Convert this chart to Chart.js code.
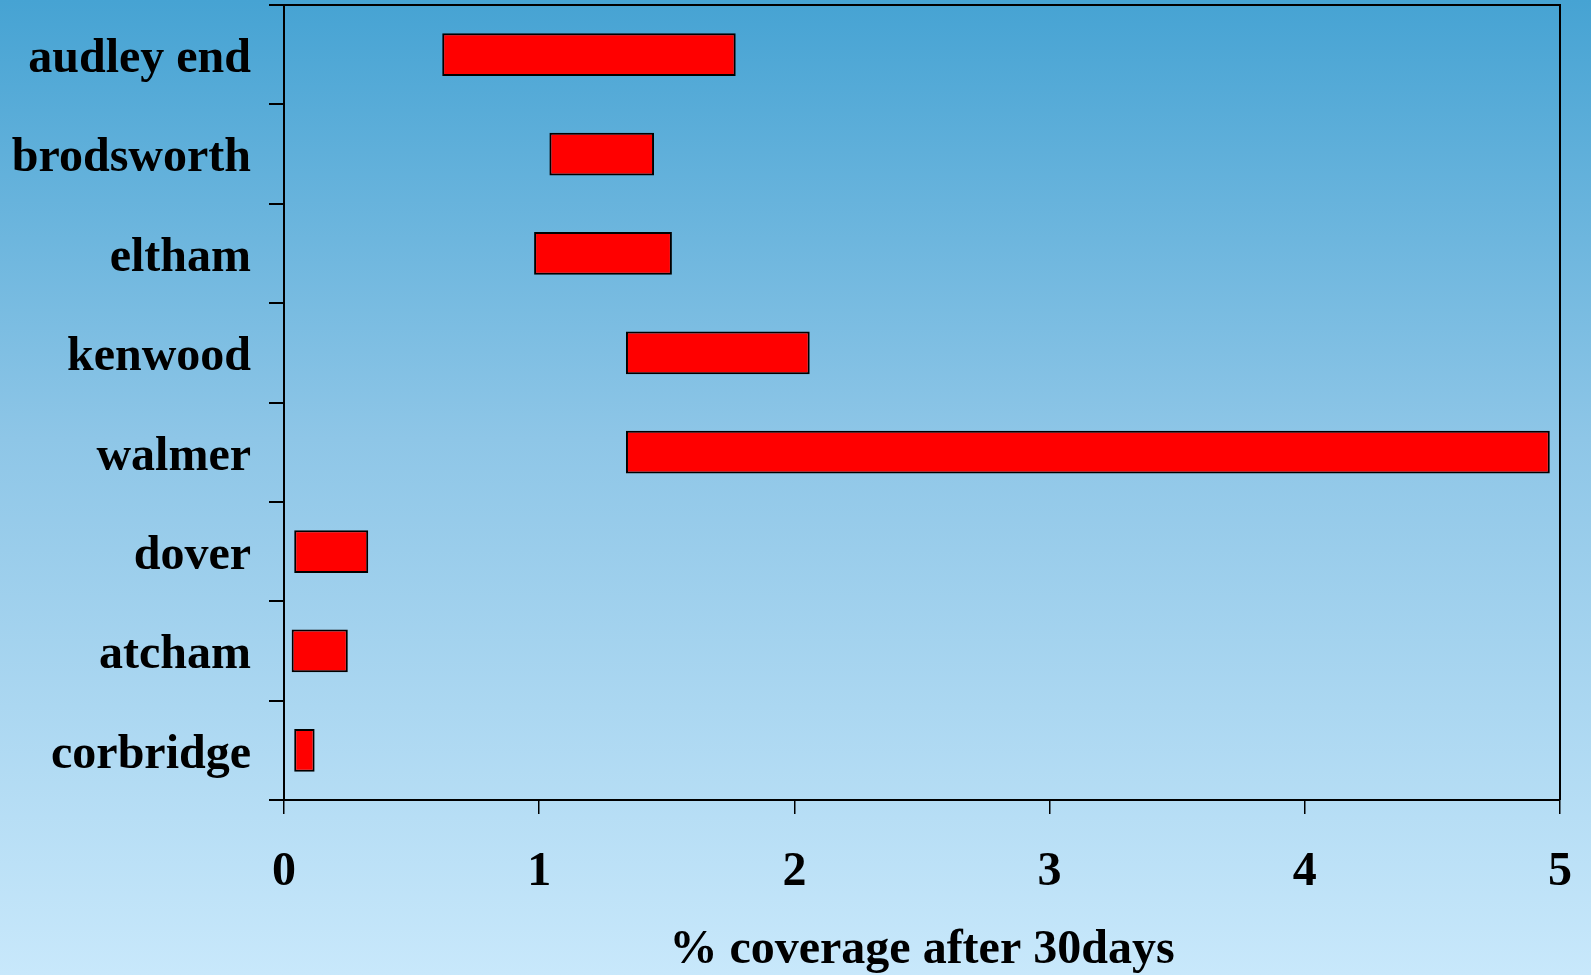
<!DOCTYPE html>
<html>
<head>
<meta charset="utf-8">
<script src="https://cdn.jsdelivr.net/npm/chart.js@4.4.0/dist/chart.umd.min.js"></script>
<style>
  html, body { margin: 0; padding: 0; }
  body {
    width: 1591px; height: 975px; overflow: hidden;
    background: linear-gradient(to bottom, #46a3d3 0%, #8ec6e7 45%, #c8e8fb 100%);
  }
  canvas { display: block; }
</style>
</head>
<body>
<canvas id="chart" width="1591" height="975"></canvas>
<script>
const sites = ['audley end', 'brodsworth', 'eltham', 'kenwood', 'walmer', 'dover', 'atcham', 'corbridge'];
// coverage range (low, high) per site
const lowValues  = [0.62, 1.04, 0.98, 1.34, 1.34, 0.04, 0.03, 0.04];
const highValues = [1.77, 1.45, 1.52, 2.06, 4.96, 0.33, 0.25, 0.12];
const xTicks = [0, 1, 2, 3, 4, 5];
const xTitle = '% coverage after 30days';

const family = '"Liberation Serif", "Times New Roman", serif';
const font = { family: family, size: 48, weight: 'bold' };

// haut et droite du cadre
const frame = {
    id: 'frame',
    afterDraw(chart) {
        const { ctx, chartArea: a } = chart;
        ctx.save();
        ctx.strokeStyle = '#000';
        ctx.lineWidth = 2;
        ctx.beginPath();
        ctx.moveTo(a.left, a.top);
        ctx.lineTo(a.right, a.top);
        ctx.lineTo(a.right, a.bottom);
        ctx.stroke();
        ctx.restore();
    }
};

new Chart(document.getElementById('chart'), {
    type: 'bar',
    data: {
        labels: sites,
        datasets: [{
            data: sites.map((s, i) => [lowValues[i], highValues[i]]),
            backgroundColor: '#ff0000',
            borderColor: '#000000',
            borderWidth: 2,
            borderSkipped: false,
            categoryPercentage: 1,
            barPercentage: 0.43
        }]
    },
    options: {
        indexAxis: 'y',
        responsive: false,
        animation: false,
        layout: { padding: { top: 5, right: 31, left: 0, bottom: 0 } },
        plugins: {
            legend: { display: false },
            tooltip: { enabled: false }
        },
        scales: {
            x: {
                min: 0,
                max: 5,
                afterBuildTicks: s => { s.ticks = xTicks.map(v => ({ value: v })); },
                afterFit: s => { s.height = 175; s.paddingLeft = 0; s.paddingRight = 0; },
                grid: { drawOnChartArea: false, color: '#000', lineWidth: 1.5, tickLength: 14 },
                border: { color: '#000', width: 2 },
                ticks: { color: '#000', font: font, padding: 30, maxRotation: 0 },
                title: {
                    display: true, text: xTitle, color: '#000',
                    font: { family: family, size: 48, weight: 'bold', lineHeight: 1.0 },
                    padding: { top: 0, bottom: 0 }
                }
            },
            y: {
                afterFit: s => { s.width = 284; s.paddingTop = 0; s.paddingBottom = 0; },
                grid: { offset: true, drawOnChartArea: false, color: '#000', lineWidth: 2, tickLength: 15 },
                border: { color: '#000', width: 2 },
                ticks: { color: '#000', font: font, padding: 18, labelOffset: 5 }
            }
        }
    },
    plugins: [frame]
});
</script>
</body>
</html>
